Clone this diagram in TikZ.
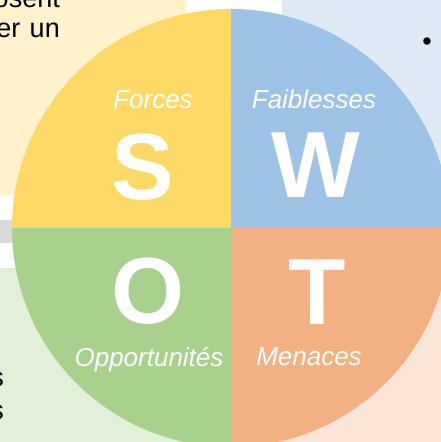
\documentclass[tikz,border=0pt]{standalone}
\usepackage{fontspec}
\setmainfont{Liberation Sans}
\definecolor{yelQ}{HTML}{FFD966}
\definecolor{bluQ}{HTML}{9DC3E6}
\definecolor{grnQ}{HTML}{A9D18E}
\definecolor{ornQ}{HTML}{F4B183}
\definecolor{paleY}{HTML}{FFF2CC}
\definecolor{paleB}{HTML}{DEEBF7}
\definecolor{paleG}{HTML}{E2F0D9}
\definecolor{paleO}{HTML}{FBE5D6}
\definecolor{grayBar}{HTML}{D9D9D9}
\begin{document}
\begin{tikzpicture}[x=1pt,y=1pt,
  bigletter/.style={text=white,inner sep=0pt,font=\fontsize{94}{100}\selectfont\bfseries},
  qlabel/.style={text=white,inner sep=0pt,font=\fontsize{26}{30}\selectfont\itshape},
  bgtext/.style={text=black,inner sep=0pt,font=\fontsize{27}{30}\selectfont}]
\useasboundingbox (0,0) rectangle (441,442);
\clip (0,0) rectangle (441,442);
\fill[white] (0,0) rectangle (441,442);
% background panels
\fill[paleY] (-10,247) rectangle (186,452);
\fill[paleB] (282,242) rectangle (451,452);
\fill[grayBar] (-10,199) rectangle (60,222);
\fill[paleG] (-10,-10) rectangle (215,174);
\fill[paleO] (250,-10) rectangle (451,190);
% background text fragments
\node[bgtext,anchor=base east] (t1) at (60,434) {osent};
\node[bgtext,anchor=base east] (t2) at (60,404) {er\hspace{2pt} un};
\node[bgtext,anchor=base east] (t3) at (4,55) {s};
\node[bgtext,anchor=base east] (t4) at (4,22) {s};
\node[bgtext,anchor=base] (bul) at (427,391) {•};
% SWOT circle
\coordinate (C) at (231,214);
\fill[yelQ] (C) -- ++(-219,0) arc[start angle=180,end angle=90,radius=219] -- cycle;
\fill[bluQ] (C) -- ++(0,219) arc[start angle=90,end angle=0,radius=219] -- cycle;
\fill[ornQ] (C) -- ++(219,0) arc[start angle=0,end angle=-90,radius=219] -- cycle;
\fill[grnQ] (C) -- ++(0,-219) arc[start angle=-90,end angle=-180,radius=219] -- cycle;
% letters
\node[bigletter] (S) at (143,275) {S};
\node[bigletter] (W) at (316,277) {W};
\node[bigletter] (O) at (148,151) {O};
\node[bigletter] (T) at (317,150) {T};
% labels
\node[qlabel] (lf) at (153,342) {Forces};
\node[qlabel] (lw) at (314,343) {Faiblesses};
\node[qlabel] (lo) at (149,82) {Opportunités};
\node[qlabel] (lt) at (309,85) {Menaces};
\end{tikzpicture}
\end{document}
